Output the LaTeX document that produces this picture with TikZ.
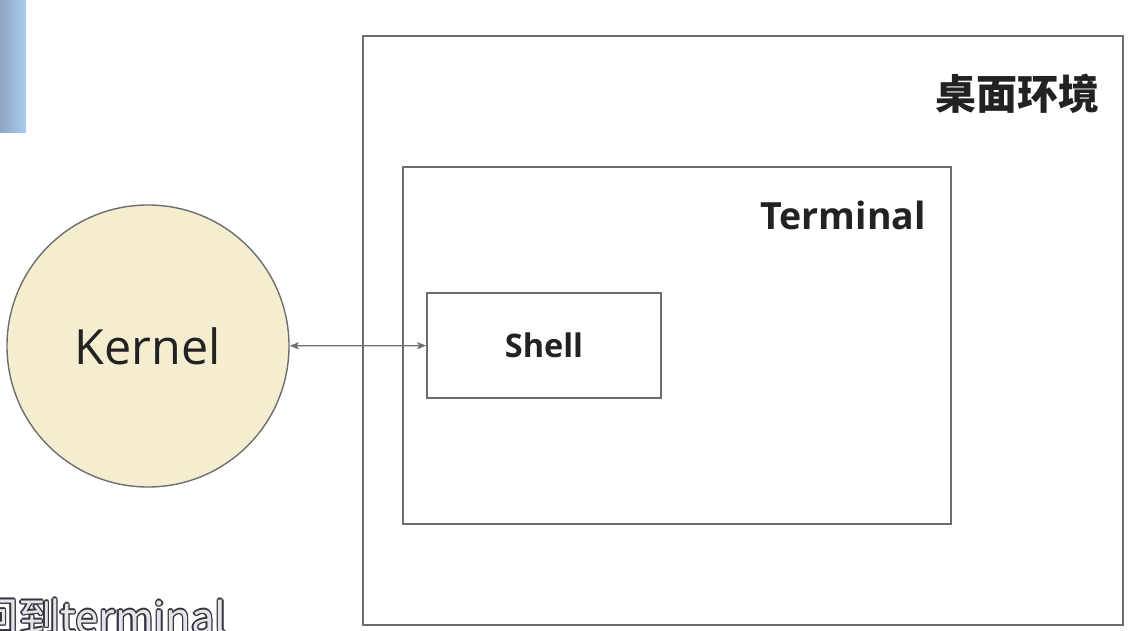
\documentclass[tikz,border=0pt]{standalone}
\usepackage{fontspec}
\setmainfont{Open Sans}
\newfontfamily\cjkfont{Noto Sans CJK SC}
\usetikzlibrary{
  arrows.meta,
  positioning,
}
\definecolor{linegrey}{HTML}{6E6E6E}
\definecolor{kernelfill}{HTML}{F5EDD0}
\definecolor{textdark}{HTML}{222222}
\definecolor{barblue}{HTML}{A9CCEF}
\definecolor{bardark}{HTML}{8EA6C4}
\definecolor{subtitle}{HTML}{34343F}
\definecolor{subcore}{HTML}{E4E4EA}
\tikzset{
  >={Stealth[length=9pt, width=7pt, inset=2pt]},
}
% light caption text with a dark rim
\newcommand\rimtext[1]{\leavevmode
  \rlap{\kern-1.4pt\textcolor{subtitle}{#1}}\rlap{\kern1.4pt\textcolor{subtitle}{#1}}%
  \rlap{\raisebox{1.4pt}{\textcolor{subtitle}{#1}}}\rlap{\raisebox{-1.4pt}{\textcolor{subtitle}{#1}}}%
  \rlap{\kern-1pt\raisebox{1pt}{\textcolor{subtitle}{#1}}}\rlap{\kern1pt\raisebox{1pt}{\textcolor{subtitle}{#1}}}%
  \rlap{\kern-1pt\raisebox{-1pt}{\textcolor{subtitle}{#1}}}\rlap{\kern1pt\raisebox{-1pt}{\textcolor{subtitle}{#1}}}%
  \textcolor{subcore}{#1}}

\begin{document}
\begin{tikzpicture}[
      x=1pt, y=-1pt,
      box/.style={draw=linegrey, line width=1.6pt, rectangle, inner sep=0pt},
      label text/.style={font=\bfseries, text=textdark, inner sep=0pt},
      kernel/.style={circle, draw=linegrey, line width=1.4pt, fill=kernelfill, minimum size=282pt, inner sep=0pt, text=textdark, font=\fontsize{48.5}{58}\selectfont},
    ]
      \useasboundingbox (0,0) rectangle (1128,631);
      \fill [left color=bardark, right color=barblue] (0,0) rectangle (26,133);
      \node [box, minimum width=760pt, minimum height=589pt] (desktop) at (743,330.5) {};
      \node [box, minimum width=548pt, minimum height=357pt] (terminal) at (677,345.5) {};
      \node [box, minimum width=234pt, minimum height=105pt, label text, font=\fontsize{32.5}{38}\selectfont\bfseries] (shell) at (544,345.5) {Shell};
      \node [kernel] (kernel) at (148,346) {Kernel};
      \node [label text, anchor=east, font=\fontsize{41}{47}\selectfont\cjkfont\bfseries] (desktoplabel) at (1100,94) {桌面环境};
      \node [label text, anchor=east, font=\fontsize{37.5}{43}\selectfont\bfseries] (terminallabel) at (926,215) {Terminal};
      \draw [<->, draw=linegrey, fill=linegrey, line width=1.3pt] (kernel) -- (shell);
      \node [anchor=base west, inner sep=0pt, font=\fontsize{42}{48}\selectfont\cjkfont] (caption) at (-24,633) {\rimtext{回到terminal}};
    \end{tikzpicture}
\end{document}
